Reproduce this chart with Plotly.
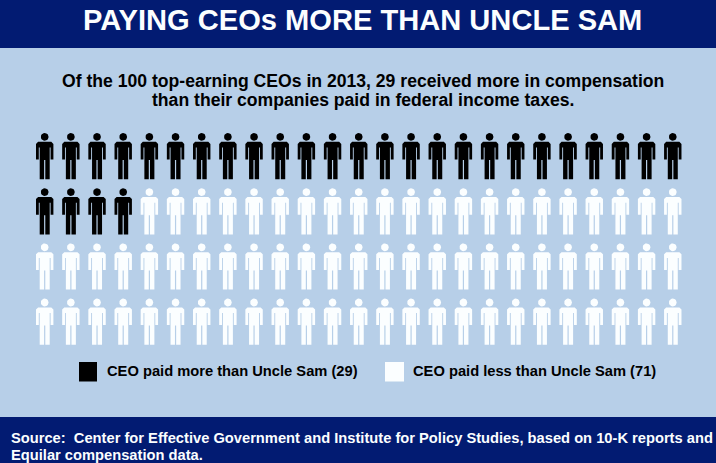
import math
import plotly.graph_objects as go

# Data
paid_more_count = 29
paid_less_count = 71
columns_per_row = 25
legend_labels = ["CEO paid more than Uncle Sam (29)", "CEO paid less than Uncle Sam (71)"]
title_text = "PAYING CEOs MORE THAN UNCLE SAM"
subtitle_lines = ["Of the 100 top-earning CEOs in 2013, 29 received more in compensation",
                  "than their companies paid in federal income taxes."]
source_lines = ["Source:  Center for Effective Government and Institute for Policy Studies, based on 10-K reports and",
                "Equilar compensation data."]

W, H = 716, 463
NAVY = "#021b72"
BG = "#b7cfe8"
WHITE = "#fbfeff"

# Unit pictogram outline in grid units (half body, mirrored)
SX, SY = 26.17, 55.2
half = [(0, -18.7), (6.6, -18.7), (8.7, -16.6), (8.7, -1), (5.9, -1), (5.9, -13),
        (5.0, -13), (5.0, 18.7), (0.6, 18.7), (0.6, -0.5), (0, -0.5)]
outline = half + [(-x, y) for x, y in reversed(half)]
head = [(3.9 * math.cos(i * math.pi / 10), -23.6 + 3.9 * math.sin(i * math.pi / 10)) for i in range(21)]


def person_paths(indices):
    xs, ys = [], []
    for k in indices:
        col, row = k % columns_per_row, k // columns_per_row
        for shape in (outline, head):
            xs += [col + px / SX for px, _ in shape] + [None]
            ys += [row + py / SY for _, py in shape] + [None]
    return xs, ys


fig = go.Figure()
total = paid_more_count + paid_less_count
groups = [(range(paid_more_count), "#000000", legend_labels[0]),
          (range(paid_more_count, total), WHITE, legend_labels[1])]
for idx, color, name in groups:
    xs, ys = person_paths(idx)
    fig.add_trace(go.Scatter(x=xs, y=ys, mode="lines", fill="toself", fillcolor=color,
                             line=dict(width=0, color=color), name=name, hoverinfo="skip",
                             showlegend=False))

x0, y0 = 44.7, 160.5  # pixel position of first person
shapes = [
    dict(type="rect", xref="paper", yref="paper", x0=0, x1=1, y0=1 - 48 / H, y1=1, fillcolor=NAVY, line_width=0, layer="below"),
    dict(type="rect", xref="paper", yref="paper", x0=0, x1=1, y0=0, y1=1 - 417 / H, fillcolor=NAVY, line_width=0, layer="below"),
    dict(type="rect", xref="paper", yref="paper", x0=79 / W, x1=97 / W, y0=1 - 381.5 / H, y1=1 - 362 / H, fillcolor="#000000", line_width=0),
    dict(type="rect", xref="paper", yref="paper", x0=385 / W, x1=404 / W, y0=1 - 381.5 / H, y1=1 - 362 / H, fillcolor=WHITE, line_width=0),
]


def note(text, x, y, size, color, xanchor="left", align="left"):
    return dict(text=text, xref="paper", yref="paper", x=x / W, y=1 - y / H, showarrow=False,
                xanchor=xanchor, yanchor="middle", align=align,
                font=dict(family="Liberation Sans", size=size, color=color, weight="bold"))


annotations = [
    note(title_text, 363, 20, 29.1, WHITE, "center", "center"),
    note(subtitle_lines[0], 363, 81, 17.6, "#000000", "center", "center"),
    note(subtitle_lines[1], 363, 100, 17.6, "#000000", "center", "center"),
    note(legend_labels[0], 105, 371, 14.7, "#000000"),
    note(legend_labels[1], 411, 371, 14.7, "#000000"),
    note(source_lines[0], 9, 437.5, 14.7, WHITE),
    note(source_lines[1], 9, 454.5, 14.7, WHITE),
]

fig.update_layout(
    width=W, height=H, margin=dict(l=0, r=0, t=0, b=0), autosize=False,
    paper_bgcolor=BG, plot_bgcolor=BG, showlegend=False,
    shapes=shapes, annotations=annotations,
    xaxis=dict(visible=False, range=[-x0 / SX, (W - x0) / SX], fixedrange=True),
    yaxis=dict(visible=False, range=[(H - y0) / SY, -y0 / SY], fixedrange=True),
)
fig.write_html("out.html", post_script="document.body.style.margin='0';", config={"displayModeBar": False})
